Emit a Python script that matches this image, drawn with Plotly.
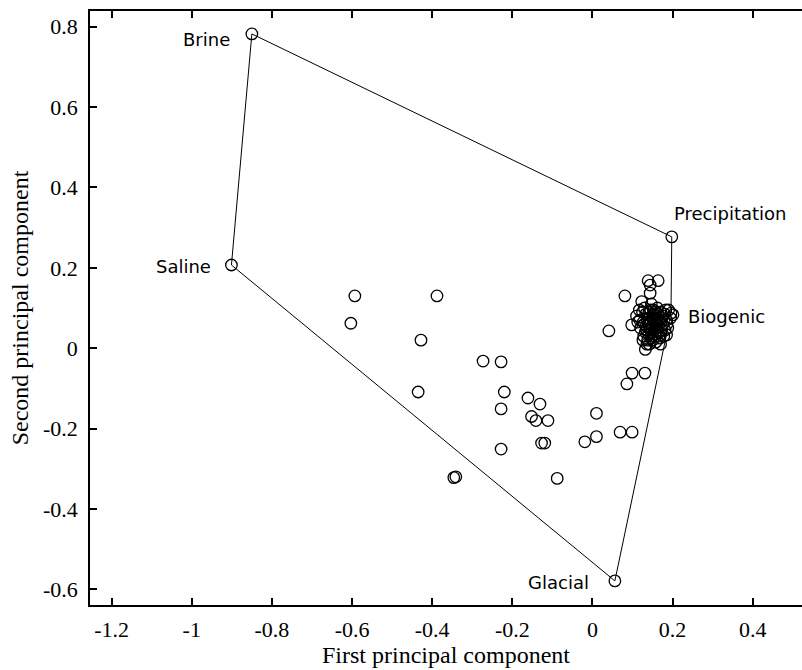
import plotly.graph_objects as go

# End-member polygon vertices (Brine -> Precipitation -> Biogenic -> Glacial -> Saline -> Brine)
member_names = ["Brine", "Precipitation", "Biogenic", "Glacial", "Saline"]
member_x = [-0.850, 0.198, 0.196, 0.056, -0.901]
member_y = [0.782, 0.277, 0.087, -0.579, 0.207]

# Sample scores (first, second principal component)
sample_x = [-0.593, -0.388, -0.603, -0.428, -0.273, -0.228, -0.435, -0.220, -0.228, -0.161,
            -0.131, -0.152, -0.141, -0.111, -0.127, -0.119, -0.228, -0.346, -0.341, -0.088,
            -0.019, 0.010, 0.010, 0.041, 0.069, 0.099, 0.086, 0.099, 0.131, 0.081,
            0.139, 0.164, 0.144, 0.144, 0.123, 0.098, 0.185, 0.201, 0.132,
            0.110, 0.118, 0.125, 0.130, 0.135, 0.140, 0.145, 0.150, 0.155, 0.160,
            0.165, 0.170, 0.175, 0.180, 0.185, 0.190, 0.128, 0.138, 0.148, 0.158,
            0.168, 0.142, 0.152, 0.162, 0.172, 0.120, 0.133, 0.147, 0.157, 0.178,
            0.188, 0.195, 0.140, 0.130, 0.165, 0.153, 0.117, 0.145, 0.160, 0.170,
            0.127, 0.132, 0.137, 0.143, 0.149, 0.154, 0.159, 0.163, 0.167, 0.173,
            0.126, 0.134, 0.141, 0.146, 0.151, 0.156, 0.161, 0.166, 0.171, 0.176,
            0.136, 0.144, 0.152, 0.150, 0.139, 0.158, 0.183, 0.181, 0.186, 0.113]
sample_y = [0.130, 0.130, 0.062, 0.020, -0.032, -0.034, -0.109, -0.109, -0.151, -0.124,
            -0.139, -0.170, -0.180, -0.180, -0.236, -0.236, -0.251, -0.322, -0.320, -0.324,
            -0.233, -0.220, -0.162, 0.043, -0.209, -0.209, -0.089, -0.062, -0.062, 0.130,
            0.168, 0.168, 0.157, 0.137, 0.116, 0.058, 0.033, 0.083, -0.003,
            0.080, 0.070, 0.090, 0.060, 0.045, 0.075, 0.095, 0.055, 0.080, 0.040,
            0.070, 0.090, 0.060, 0.085, 0.070, 0.095, 0.030, 0.020, 0.030, 0.015,
            0.025, 0.010, 0.065, 0.100, 0.045, 0.050, 0.085, 0.110, 0.050, 0.030,
            0.050, 0.075, 0.035, 0.100, 0.055, 0.085, 0.095, 0.060, 0.075, 0.010,
            0.065, 0.040, 0.070, 0.050, 0.040, 0.070, 0.060, 0.085, 0.040, 0.075,
            0.020, 0.055, 0.090, 0.025, 0.075, 0.035, 0.050, 0.030, 0.065, 0.080,
            0.010, 0.045, 0.095, 0.020, 0.060, 0.090, 0.095, 0.045, 0.060, 0.065]

# Label placement for end members
label_x = [-0.900, 0.198, 0.233, -0.004, -0.947]
label_y = [0.769, 0.336, 0.080, -0.582, 0.204]
label_anchor = ["right", "left", "left", "right", "right"]

x_ticks = [-1.2, -1, -0.8, -0.6, -0.4, -0.2, 0, 0.2, 0.4]
y_ticks = [-0.6, -0.4, -0.2, 0, 0.2, 0.4, 0.6, 0.8]

fig = go.Figure()

poly_order = [0, 1, 2, 3, 4, 0]
fig.add_trace(go.Scatter(
    x=[member_x[i] for i in poly_order], y=[member_y[i] for i in poly_order],
    mode="lines", line=dict(color="black", width=1), hoverinfo="skip"))

fig.add_trace(go.Scatter(
    x=sample_x, y=sample_y, mode="markers",
    marker=dict(symbol="circle-open", size=11.5, color="black", line=dict(width=1.3))))

fig.add_trace(go.Scatter(
    x=member_x, y=member_y, mode="markers",
    marker=dict(symbol="circle-open", size=11.5, color="black", line=dict(width=1.3))))

for name, lx, ly, anc in zip(member_names, label_x, label_y, label_anchor):
    fig.add_annotation(x=lx, y=ly, text=name, showarrow=False, xanchor=anc, yanchor="middle",
                       font=dict(family="DejaVu Sans", size=18, color="black"))

tickfont = dict(family="Liberation Serif", size=22, color="black")
titlefont = dict(family="Liberation Serif", size=24, color="black")

fig.update_layout(
    width=802, height=670,
    margin=dict(l=90, r=0, t=11, b=65),
    paper_bgcolor="white", plot_bgcolor="white",
    showlegend=False,
    xaxis=dict(range=[-1.254, 0.523], tickvals=x_ticks, ticktext=[f"{v:g}" for v in x_ticks],
               ticks="inside", ticklen=7, tickwidth=1.5, tickcolor="black",
               showline=True, linecolor="black", linewidth=1.5, mirror="ticks",
               showgrid=False, zeroline=False, tickfont=tickfont, ticklabelstandoff=4,
               title=dict(text="First principal component", font=titlefont, standoff=4)),
    yaxis=dict(range=[-0.639, 0.839], tickvals=y_ticks, ticktext=[f"{v:g}" for v in y_ticks],
               ticks="inside", ticklen=7, tickwidth=1.5, tickcolor="black",
               showline=True, linecolor="black", linewidth=1.5, mirror=False,
               showgrid=False, zeroline=False, tickfont=tickfont, ticklabelstandoff=6,
               title=dict(text="Second principal component", font=titlefont, standoff=8)),
)

fig.write_html("out.html")
